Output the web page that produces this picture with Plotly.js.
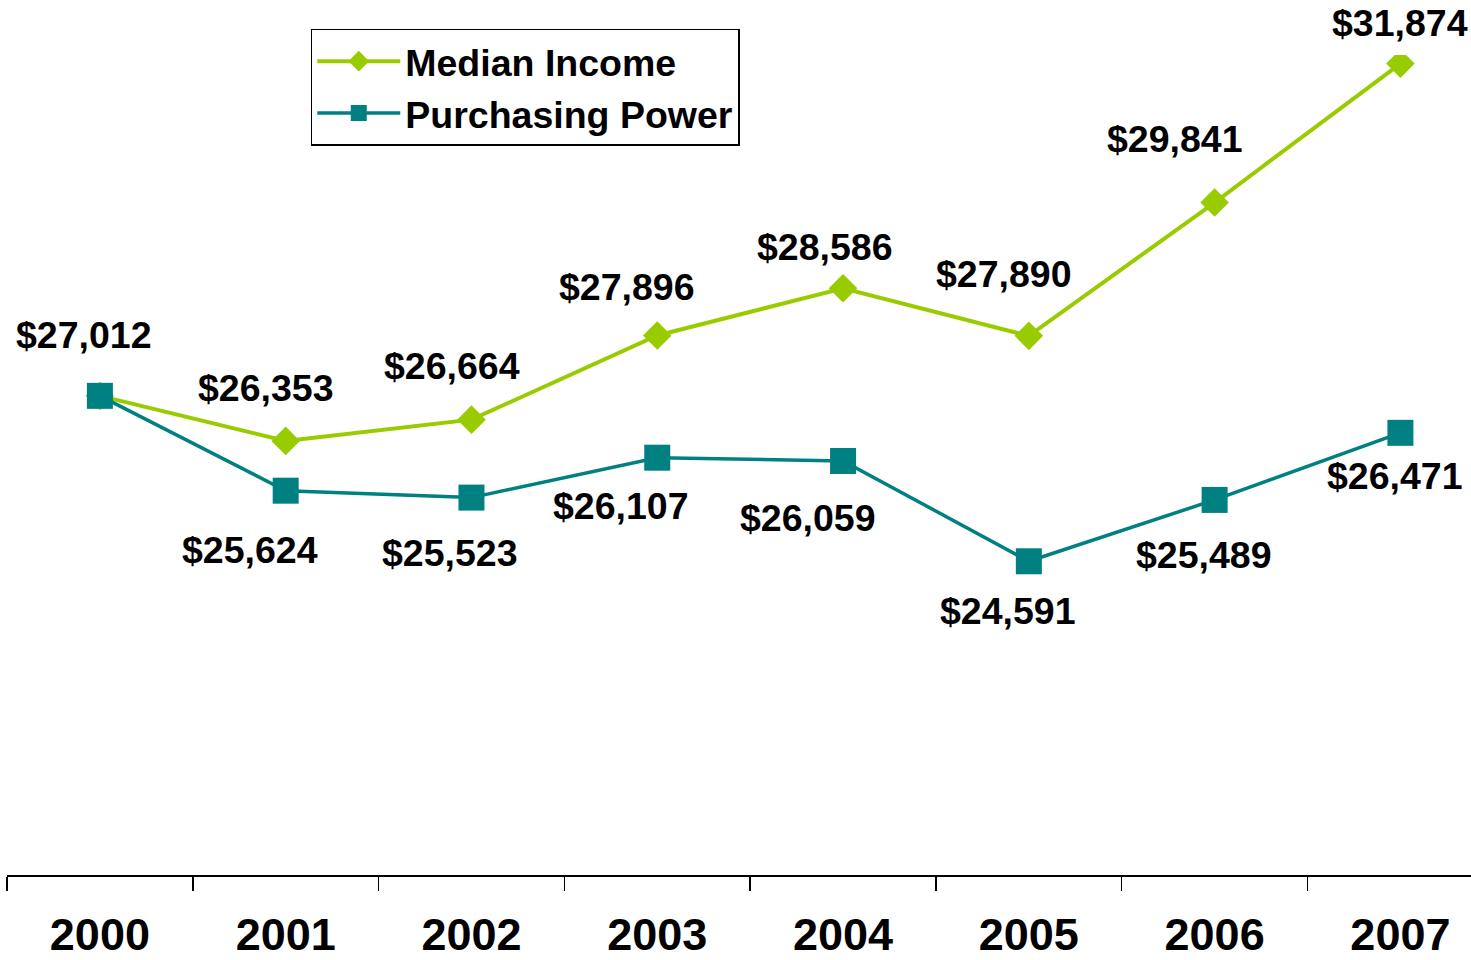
<!DOCTYPE html>
<html>
<head>
<meta charset="utf-8">
<script src="https://cdn.plot.ly/plotly-3.0.1.min.js"></script>
<style>html,body{margin:0;padding:0;background:#fff;overflow:hidden;}</style>
</head>
<body>
<div id="chart" style="width:1471px;height:960px;"></div>
<script>
const years = ["2000","2001","2002","2003","2004","2005","2006","2007"];
const medianIncome = [27012, 26353, 26664, 27896, 28586, 27890, 29841, 31874];
const purchasingPower = [27012, 25624, 25523, 26107, 26059, 24591, 25489, 26471];

// label offsets (pixels) relative to each point
const medianLabelDX = [-16, -20, -19, -30, -18, -25, -40, 0];
const medianLabelDY = [61, 53, 54, 48, 41, 62, 64, 41];
const purchLabelDX = [null, -36, -21, -36, -35, -21, -11, -5];
const purchLabelDY = [null, -59, -55, -48, -57, -50, -55, -43];

const fmt = v => "$" + v.toLocaleString("en-US");
const FONT = "Arial, 'Liberation Sans', sans-serif";

const annotations = [];
years.forEach((yr, i) => {
  annotations.push({
    x: i, y: medianIncome[i], xref: "x", yref: "y",
    text: fmt(medianIncome[i]), showarrow: false,
    xshift: medianLabelDX[i], yshift: medianLabelDY[i],
    font: {family: FONT, size: 37.5, color: "#000", weight: "bold"}
  });
  if (purchLabelDX[i] !== null) {
    annotations.push({
      x: i, y: purchasingPower[i], xref: "x", yref: "y",
      text: fmt(purchasingPower[i]), showarrow: false,
      xshift: purchLabelDX[i], yshift: purchLabelDY[i],
      font: {family: FONT, size: 37.5, color: "#000", weight: "bold"}
    });
  }
});

const traces = [
  {
    x: years, y: medianIncome, name: "Median Income", type: "scatter", mode: "lines+markers",
    legendgroup: "a",
    line: {color: "#99CC00", width: 4},
    marker: {symbol: "diamond", size: 22, color: "#99CC00"}
  },
  {
    x: years, y: purchasingPower, name: "Purchasing Power", type: "scatter", mode: "lines+markers",
    legendgroup: "b",
    line: {color: "#008080", width: 3.5},
    marker: {symbol: "square", size: 26, color: "#008080"}
  }
];

const layout = {
  width: 1471, height: 960,
  margin: {l: 7, r: 0, t: 55, b: 85},
  paper_bgcolor: "#fff", plot_bgcolor: "#fff",
  font: {family: FONT, color: "#000"},
  showlegend: true,
  legend: {
    x: 0.2075, y: 1.032, xanchor: "left", yanchor: "top",
    bgcolor: "#fff", bordercolor: "#000", borderwidth: 1.5,
    font: {family: FONT, size: 37.5, color: "#000", weight: "bold"},
    itemwidth: 83, tracegroupgap: 0
  },
  xaxis: {
    type: "category", range: [-0.5, 7.38],
    showline: true, linecolor: "#000", linewidth: 2,
    ticks: "outside", tickson: "boundaries", ticklen: 14, tickwidth: 1.5, tickcolor: "#000",
    ticklabelstandoff: 19,
    showgrid: false, zeroline: false,
    tickfont: {family: FONT, size: 45, color: "#000", weight: "bold"}
  },
  yaxis: {
    range: [20000, 32000], visible: false, showgrid: false, zeroline: false
  },
  annotations: annotations
};

Plotly.newPlot("chart", traces, layout, {displayModeBar: false, staticPlot: true});
</script>
</body>
</html>
